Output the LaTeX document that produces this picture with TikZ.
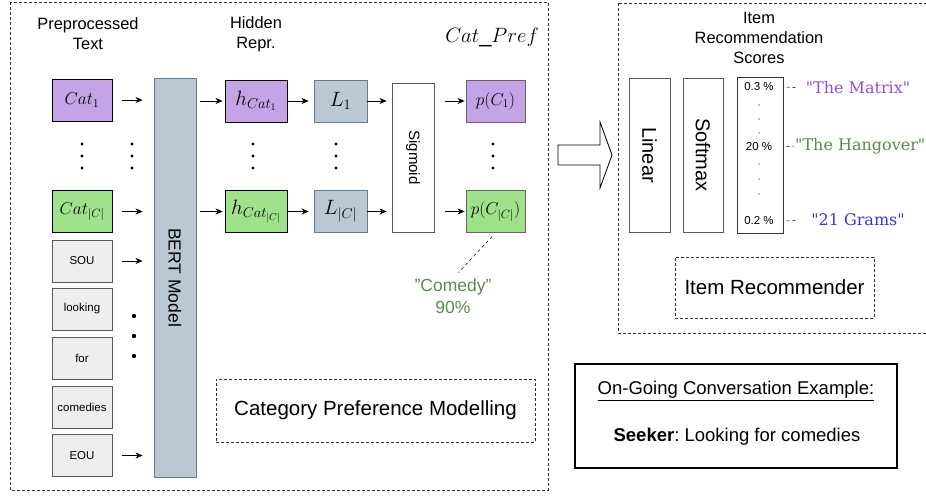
\documentclass[tikz,border=0pt]{standalone}
\usepackage{fontspec}
\setmainfont{Liberation Sans}
\newfontfamily\titlefont{DejaVu Serif}
\usetikzlibrary{arrows.meta,positioning}

\definecolor{catpurple}{HTML}{C3A3E6}
\definecolor{catgreen}{HTML}{A0E28C}
\definecolor{bertblue}{HTML}{BAC8D3}
\definecolor{bertline}{HTML}{23445D}
\definecolor{tokgray}{HTML}{EEEEEE}
\definecolor{comedygreen}{HTML}{5B8A4E}
\definecolor{matrixpurple}{HTML}{8B4FE0}
\definecolor{gramsblue}{HTML}{3737DD}

\begin{document}
\begin{tikzpicture}[x=1pt, y=-1pt,
  every node/.style={inner sep=0pt},
  arr/.style={-{Stealth[length=7pt,width=6pt,inset=2pt]}, line width=0.8pt},
  catbox/.style={draw, line width=0.8pt, minimum width=60, minimum height=42, font=\fontsize{18}{20}\selectfont},
  tokbox/.style={draw=black!65, fill=tokgray, line width=0.8pt, minimum width=60, minimum height=42, font=\fontsize{11.5}{13}\selectfont},
  bluebox/.style={draw=bertline!70, fill=bertblue, line width=0.8pt, minimum height=42, font=\fontsize{22}{24}\selectfont},
  plainbox/.style={draw=black!65, line width=0.8pt},
  areabox/.style={draw=black!80, line width=0.7pt, dash pattern=on 3pt off 2pt},
  header/.style={align=center, font=\fontsize{16.4}{20}\selectfont},
  bigtext/.style={font=\fontsize{20.5}{24}\selectfont},
  movie/.style={font=\titlefont\fontsize{16}{18}\selectfont}]
\useasboundingbox (0,0) rectangle (926,496);

% Category preference part
\draw[areabox] (10,2) rectangle (548,490);
\node[header] (prepro) at (88,34) {Preprocessed\\Text};
\node[header] (hidden) at (256,34) {Hidden\\Repr.};
\node[font=\fontsize{22}{24}\selectfont] (catpref) at (492,37) {$Cat\_Pref$};

% Input column: categories and tokens
\node[catbox, fill=catpurple] (cat1) at (82,100) {$Cat_1$};
\node[catbox, fill=catgreen] (catc) at (82,211.5) {$Cat_{|C|}$};
\node[tokbox] (sou) at (82,261) {SOU};
\node[tokbox] (looking) at (82,309) {looking};
\node[tokbox] (tfor) at (82,358.5) {for};
\node[tokbox] (comedies) at (82,407.5) {comedies};
\node[tokbox] (eou) at (82,455.5) {EOU};

% BERT encoder
\node[bluebox, minimum width=42, minimum height=399] (bert) at (175,277.5) {};
\node[rotate=-90, font=\fontsize{17.5}{20}\selectfont] at (bert) {BERT Model};

% Hidden states, linear heads, sigmoid, probabilities
\node[catbox, fill=catpurple, minimum width=62, font=\fontsize{20}{22}\selectfont] (h1) at (256,101) {$h_{Cat_1}$};
\node[catbox, fill=catgreen, minimum width=62, font=\fontsize{20}{22}\selectfont] (hc) at (256,211.5) {$h_{Cat_{|C|}}$};
\node[bluebox, minimum width=53] (l1) at (340.5,101) {$L_1$};
\node[bluebox, minimum width=53] (lc) at (340.5,211.5) {$L_{|C|}$};
\node[plainbox, minimum width=42, minimum height=149] (sig) at (413,157.5) {};
\node[rotate=-90, font=\fontsize{15}{18}\selectfont] at (sig) {Sigmoid};
\node[catbox, draw=black!60, fill=catpurple, minimum width=59, font=\fontsize{17}{20}\selectfont] (p1) at (495.5,101) {$p(C_1)$};
\node[catbox, draw=black!60, fill=catgreen, minimum width=59, font=\fontsize{17}{20}\selectfont] (pc) at (495.5,211.5) {$p(C_{|C|})$};

% Arrows into BERT
\draw[arr, shorten <=10pt, shorten >=11pt] (cat1) -- (cat1 -| bert.west);
\draw[arr, shorten <=10pt, shorten >=11pt] (catc) -- (catc -| bert.west);
\draw[arr, shorten <=10pt, shorten >=11pt] (sou) -- (sou -| bert.west);
\draw[arr, shorten <=10pt, shorten >=11pt] (eou) -- (eou -| bert.west);

% Arrows through the heads
\draw[arr, shorten <=4pt, shorten >=2pt] (bert.east |- h1) -- (h1);
\draw[arr, shorten <=4pt, shorten >=2pt] (bert.east |- hc) -- (hc);
\draw[arr, shorten >=5pt] (h1) -- (l1);
\draw[arr, shorten >=5pt] (hc) -- (lc);
\draw[arr, shorten >=5pt] (l1) -- (l1 -| sig.west);
\draw[arr, shorten >=5pt] (lc) -- (lc -| sig.west);
\draw[arr, shorten <=11pt, shorten >=1pt] (sig.east |- p1) -- (p1);
\draw[arr, shorten <=11pt, shorten >=1pt] (sig.east |- pc) -- (pc);

% Vertical dots between the rows
\foreach \x in {82,132,253,336,493}
  \foreach \d in {-12,0,12}
    \fill (\x,156+\d) circle (1.6);
\foreach \y in {316,336,356}
  \fill (134,\y) circle (2.2);

% Top category
\node[align=center, text=comedygreen, font=\fontsize{17.5}{22}\selectfont] (comedy) at (453,296) {"Comedy"\\90\%};
\draw[dashed, line width=0.5pt, shorten <=5pt, shorten >=8pt] (pc.south) -- (comedy.north);

\node[areabox, bigtext, minimum width=319, minimum height=63] (catmodel) at (375.5,410.5) {Category Preference Modelling};

% Hand-over to the recommender
\draw[line width=0.8pt, fill=white] (558,145) -- (600,145) -- (600,122) -- (612,155) -- (600,188) -- (600,165) -- (558,165) -- cycle;

% Item recommender part
\draw[areabox] (618,3) rectangle (935,333);
\node[header] (scorehead) at (759,38) {Item\\Recommendation\\Scores};
\node[plainbox, minimum width=41, minimum height=154] (linear) at (649.5,155) {};
\node[rotate=-90, font=\fontsize{20}{22}\selectfont] at (linear) {Linear};
\node[plainbox, minimum width=40, minimum height=154] (softmax) at (703,155) {};
\node[rotate=-90, font=\fontsize{20}{22}\selectfont] at (softmax) {Softmax};
\node[draw=black!80, line width=1pt, minimum width=46, minimum height=156] (scores) at (760,155) {};
\node[font=\fontsize{11.5}{13}\selectfont] (s1) at (759,87) {0.3 \%};
\node[font=\fontsize{11.5}{13}\selectfont] (s2) at (759,147) {20 \%};
\node[font=\fontsize{11.5}{13}\selectfont] (s3) at (759,221) {0.2 \%};
\foreach \y in {105,119,133,164,179,194}
  \fill (759,\y) circle (0.6);

% Recommended movies
\node[movie, text=matrixpurple] (matrix) at (858,88) {"The Matrix"};
\node[movie, text=comedygreen, anchor=west] (hangover) at (795,146) {"The Hangover"};
\node[movie, text=gramsblue] (grams) at (858,220) {"21 Grams"};
\draw[dashed, line width=0.5pt, shorten <=3pt, shorten >=9pt] (scores.east |- s1) -- (matrix.west);
\draw[dashed, line width=0.5pt, shorten <=3pt, shorten >=1pt] (scores.east |- s2) -- (hangover.west);
\draw[dashed, line width=0.5pt, shorten <=3pt, shorten >=14pt] (scores.east |- s3) -- (grams.west);

\node[areabox, bigtext, minimum width=199, minimum height=61] (itemrec) at (774.5,287.5) {Item Recommender};

% Conversation example
\node[draw, line width=1.8pt, minimum width=322, minimum height=104] (conv) at (736,416) {};
\node[font=\fontsize{18.5}{22}\selectfont] (convhead) at (736,391) {\underline{On-Going Conversation Example:}};
\node[font=\fontsize{18.5}{22}\selectfont\frenchspacing] (seeker) at (737,437) {\textbf{Seeker}: Looking for comedies};

\end{tikzpicture}
\end{document}
